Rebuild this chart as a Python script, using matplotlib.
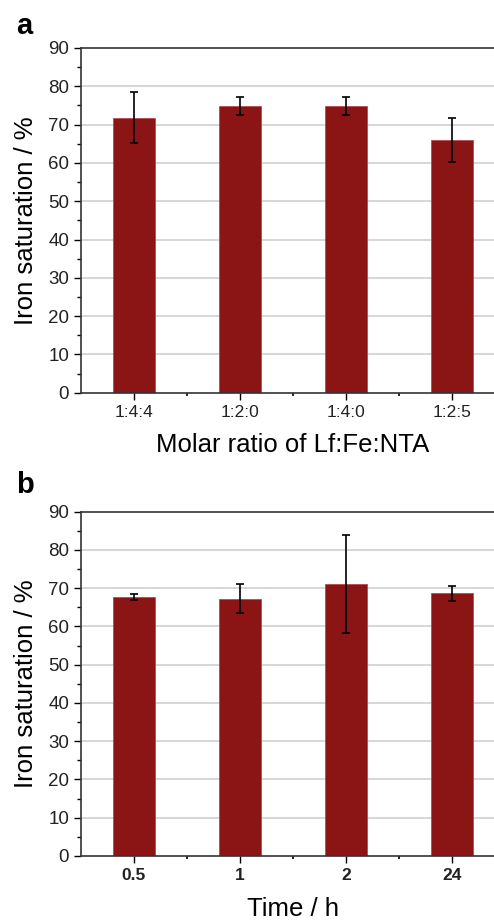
import matplotlib.pyplot as plt
import numpy as np
from matplotlib.ticker import MultipleLocator

plt.rcParams['font.family'] = ['Liberation Sans', 'DejaVu Sans']

# panel a
ratio_labels = ['1:4:4', '1:2:0', '1:4:0', '1:2:5']
ratio_means = [71.8, 74.8, 74.8, 65.9]
ratio_errs = [6.6, 2.4, 2.4, 5.7]

# panel b
time_labels = ['0.5', '1', '2', '24']
time_means = [67.8, 67.3, 71.1, 68.7]
time_errs = [0.8, 3.9, 12.7, 2.0]

bar_color = '#8b1414'

fig = plt.figure(figsize=(4.94, 9.21), dpi=100)
ax_a = fig.add_axes([0.164, 0.5736, 0.858, 0.3743])
ax_b = fig.add_axes([0.164, 0.0706, 0.858, 0.3738])


def draw_panel(ax, labels, means, errs, xlabel, bold_ticks):
    x = np.arange(1, len(labels) + 1)
    ax.set_axisbelow(True)
    ax.bar(x, means, 0.4, color=bar_color, edgecolor='#b04040', linewidth=0.5, zorder=2)
    ax.errorbar(x, means, yerr=errs, fmt='none', ecolor='black',
                elinewidth=1.2, capsize=3, capthick=1.2, zorder=3)
    ax.set_xlim(0.5, 4.5)
    ax.set_ylim(0, 90)
    ax.set_xticks(x)
    ax.set_xticklabels(labels, fontsize=12.5,
                       fontweight='bold' if bold_ticks else 'normal', color='#222222')
    ax.set_xticks(x[:-1] + 0.5, minor=True)
    ax.yaxis.set_major_locator(MultipleLocator(10))
    ax.yaxis.set_minor_locator(MultipleLocator(5))
    ax.tick_params(axis='y', labelsize=13.5, labelcolor='#222222')
    ax.tick_params(which='major', direction='out', length=5, width=1, top=False, right=False)
    ax.tick_params(axis='y', which='minor', direction='out', length=3, width=1, right=False)
    ax.tick_params(axis='x', which='minor', direction='out', length=2, width=1.2, top=False)
    for yv in range(10, 90, 10):
        ax.axhline(yv, color='#d0d0d0', linewidth=1.2, zorder=1)
    for s in ax.spines.values():
        s.set_linewidth(1.2)
        s.set_color('#333333')
    ax.set_ylabel('Iron saturation / %', fontsize=18.5, labelpad=7)
    ax.set_xlabel(xlabel, fontsize=18.5, labelpad=10)


draw_panel(ax_a, ratio_labels, ratio_means, ratio_errs, 'Molar ratio of Lf:Fe:NTA', False)
draw_panel(ax_b, time_labels, time_means, time_errs, 'Time / h', True)

fig.text(0.032, 0.963, 'a', fontsize=21, fontweight='bold')
fig.text(0.032, 0.465, 'b', fontsize=21, fontweight='bold')

fig.savefig('out.png', dpi=100)
